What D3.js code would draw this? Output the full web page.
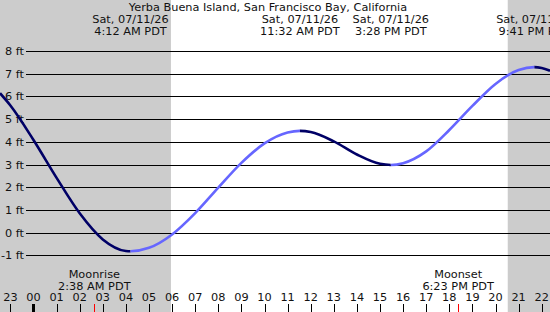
<!DOCTYPE html>
<html>
<head>
<meta charset="utf-8">
<script src="https://cdn.jsdelivr.net/npm/d3@7"></script>
<style>
body { margin: 0; background: #fff; }
svg { display: block; font-family: "DejaVu Sans", sans-serif; }
</style>
</head>
<body>
<div id="chart"></div>
<script>
var width = 550, height = 312;

// tide readings: hours from midnight (negative = previous evening) and feet
var tideHours = [-1.45, -1, 0, 1, 2, 3, 4, 4.2, 5, 6, 7, 8, 9, 10, 11, 11.53, 12, 13, 14, 15, 15.47, 16, 17, 18, 19, 20, 21, 21.68, 22, 22.36];
var tideFeet  = [6.14, 5.6, 4.08, 2.41, 0.85, -0.3, -0.81, -0.82, -0.67, -0.08, 0.86, 1.98, 3.07, 3.93, 4.41, 4.48, 4.43, 4.02, 3.44, 3.03, 2.98, 3.06, 3.58, 4.52, 5.58, 6.55, 7.16, 7.29, 7.25, 7.13];

// highs / lows
var extremeHours = [4.2, 11.533, 15.467, 21.683];
var extremeDates = ["Sat, 07/11/26", "Sat, 07/11/26", "Sat, 07/11/26", "Sat, 07/11/26"];
var extremeTimes = ["4:12 AM PDT", "11:32 AM PDT", "3:28 PM PDT", "9:41 PM PDT"];

// sun and moon
var sunrise = 5.95, sunset = 20.53;
var moonHours = [2.633, 18.383];
var moonNames = ["Moonrise", "Moonset"];
var moonTimes = ["2:38 AM PDT", "6:23 PM PDT"];

var hourTicks = [-1, 0, 1, 2, 3, 4, 5, 6, 7, 8, 9, 10, 11, 12, 13, 14, 15, 16, 17, 18, 19, 20, 21, 22];
var feetTicks = [-1, 0, 1, 2, 3, 4, 5, 6, 7, 8];

var title = "Yerba Buena Island, San Francisco Bay, California";

var x = d3.scaleLinear().domain([-1.45, 22.359]).range([0, width]);
var y = d3.scaleLinear().domain([-1, 8]).range([255.3, 51]);
var fs = 11.3;

var svg = d3.select("#chart").append("svg")
    .attr("width", width)
    .attr("height", height);

// night shading
svg.append("rect")
    .attr("x", 0).attr("y", 0)
    .attr("width", x(sunrise)).attr("height", height)
    .attr("fill", "#cccccc");
svg.append("rect")
    .attr("x", x(sunset)).attr("y", 0)
    .attr("width", width - x(sunset)).attr("height", height)
    .attr("fill", "#cccccc");

// grid lines + labels
svg.append("g").selectAll("line")
    .data(feetTicks).enter()
    .append("line")
    .attr("x1", 26).attr("x2", width)
    .attr("y1", function (d) { return Math.round(y(d)) + 0.5; })
    .attr("y2", function (d) { return Math.round(y(d)) + 0.5; })
    .attr("stroke", "#000")
    .attr("stroke-width", 1.2);

svg.append("g").selectAll("text")
    .data(feetTicks).enter()
    .append("text")
    .text(function (d) { return d + " ft"; })
    .attr("x", 24)
    .attr("y", function (d) { return y(d) + 4; })
    .attr("text-anchor", "end")
    .attr("font-size", fs)
    .attr("fill", "#111");

// tide curve, dark while falling, light while rising
var line = d3.line()
    .x(function (d, i) { return x(tideHours[i]); })
    .y(function (d) { return y(d); })
    .curve(d3.curveMonotoneX);

var bounds = [-1.45].concat(extremeHours).concat([22.359]);
var defs = svg.append("defs");
for (var i = 0; i < bounds.length - 1; i++) {
    defs.append("clipPath").attr("id", "seg" + i)
        .append("rect")
        .attr("x", x(bounds[i])).attr("y", 0)
        .attr("width", x(bounds[i + 1]) - x(bounds[i]))
        .attr("height", height);
    svg.append("path")
        .attr("d", line(tideFeet))
        .attr("fill", "none")
        .attr("stroke", i % 2 === 0 ? "#000066" : "#6666ff")
        .attr("stroke-width", 2.6)
        .attr("clip-path", "url(#seg" + i + ")");
}

// header
svg.append("text")
    .text(title)
    .attr("x", 268).attr("y", 11)
    .attr("text-anchor", "middle")
    .attr("font-size", fs)
    .attr("fill", "#111");

var ext = svg.append("g").selectAll("g")
    .data(extremeHours).enter()
    .append("g");
ext.append("text")
    .text(function (d, i) { return extremeDates[i]; })
    .attr("x", function (d) { return x(d); })
    .attr("y", 22.5)
    .attr("text-anchor", "middle")
    .attr("font-size", fs)
    .attr("fill", "#111");
ext.append("text")
    .text(function (d, i) { return extremeTimes[i]; })
    .attr("x", function (d) { return x(d); })
    .attr("y", 35)
    .attr("text-anchor", "middle")
    .attr("font-size", fs)
    .attr("fill", "#111");

// moon labels
var moon = svg.append("g").selectAll("g")
    .data(moonHours).enter()
    .append("g");
moon.append("text")
    .text(function (d, i) { return moonNames[i]; })
    .attr("x", function (d) { return x(d); })
    .attr("y", 278)
    .attr("text-anchor", "middle")
    .attr("font-size", fs)
    .attr("fill", "#111");
moon.append("text")
    .text(function (d, i) { return moonTimes[i]; })
    .attr("x", function (d) { return x(d); })
    .attr("y", 289.5)
    .attr("text-anchor", "middle")
    .attr("font-size", fs)
    .attr("fill", "#111");

// hour axis
svg.append("g").selectAll("text")
    .data(hourTicks).enter()
    .append("text")
    .text(function (d) { return d3.format("02d")((d + 24) % 24); })
    .attr("x", function (d) { return x(d); })
    .attr("y", 301)
    .attr("text-anchor", "middle")
    .attr("font-size", fs)
    .attr("fill", "#111");

svg.append("g").selectAll("line")
    .data(hourTicks).enter()
    .append("line")
    .attr("x1", function (d) { return Math.round(x(d)) + 0.5; })
    .attr("x2", function (d) { return Math.round(x(d)) + 0.5; })
    .attr("y1", 304).attr("y2", height)
    .attr("stroke", "#000")
    .attr("stroke-width", function (d) { return d === 0 ? 3 : 1; });

svg.append("g").selectAll("line")
    .data(moonHours).enter()
    .append("line")
    .attr("x1", function (d) { return Math.round(x(d)) + 0.5; })
    .attr("x2", function (d) { return Math.round(x(d)) + 0.5; })
    .attr("y1", 304).attr("y2", height)
    .attr("stroke", "#ff0000")
    .attr("stroke-width", 1);
</script>
</body>
</html>
